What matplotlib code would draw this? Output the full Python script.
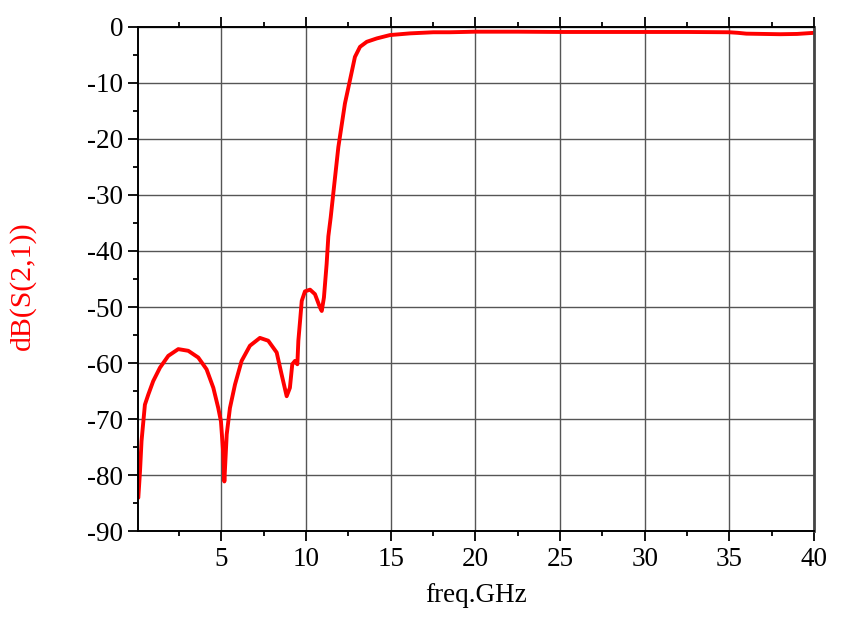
import matplotlib
matplotlib.use("Agg")
import matplotlib.pyplot as plt
from matplotlib.ticker import MultipleLocator

# --- data (freq in GHz, S21 in dB) ---
freq_ghz = [
    0.1, 0.2, 0.29, 0.49, 0.69, 0.98, 1.38, 1.87, 2.46, 3.05, 3.64, 4.13,
    4.53, 4.82, 4.98, 5.12, 5.18, 5.32, 5.51, 5.81, 6.2, 6.69, 7.28, 7.77,
    8.27, 8.56, 8.86, 9.05, 9.19, 9.35, 9.49, 9.55, 9.65, 9.75, 9.94, 10.24,
    10.53, 10.83, 10.93, 11.06, 11.22, 11.32, 11.46, 11.61, 11.91, 12.3,
    12.6, 12.89, 13.19, 13.59, 14.18, 14.96, 16.14, 17.52, 18.5, 20.0,
    22.5, 25.0, 27.5, 30.0, 32.5, 35.0, 35.5, 36.0, 37.0, 38.0, 39.0, 40.0,
]
s21_db = [
    -84.0, -79.3, -73.9, -67.4, -65.6, -63.2, -60.8, -58.7, -57.5, -57.8,
    -59.0, -61.1, -64.4, -68.0, -70.4, -76.3, -81.1, -72.7, -68.0, -63.8,
    -59.6, -56.9, -55.5, -56.0, -58.1, -62.0, -65.9, -64.4, -60.2, -59.6,
    -60.2, -56.0, -52.5, -48.9, -47.2, -46.9, -47.7, -50.1, -50.7, -48.3,
    -42.3, -37.4, -34.0, -29.8, -21.5, -13.7, -9.5, -5.4, -3.6, -2.7, -2.1,
    -1.5, -1.2, -1.0, -1.0, -0.9, -0.9, -0.95, -0.95, -0.95, -0.95, -1.0,
    -1.1, -1.25, -1.3, -1.35, -1.3, -1.1,
]

x_ticks = [5, 10, 15, 20, 25, 30, 35, 40]
y_ticks = [0, -10, -20, -30, -40, -50, -60, -70, -80, -90]

plt.rcParams["font.family"] = ["Liberation Serif", "DejaVu Serif"]
plt.rcParams["axes.unicode_minus"] = False  # plain hyphen like the original

fig = plt.figure(figsize=(8.48, 6.27), dpi=100)
ax = fig.add_axes([0.1631, 0.1525, 0.7969, 0.8050])

ax.plot(freq_ghz, s21_db, color="#ff0000", linewidth=2.8,
        solid_joinstyle="round", solid_capstyle="round")

ax.set_xlim(0.1, 40)
ax.set_ylim(-90, 0)
ax.set_xticks(x_ticks)
ax.set_yticks(y_ticks)
ax.xaxis.set_minor_locator(MultipleLocator(2.5))
ax.yaxis.set_minor_locator(MultipleLocator(5))
ax.xaxis.set_ticks_position("both")
ax.yaxis.set_ticks_position("left")

ax.grid(True, which="major", color="#555555", linewidth=1.0)
ax.set_axisbelow(True)

ax.tick_params(axis="both", which="major", direction="out", length=7,
               width=1.3, labelsize=19.5, pad=4)
ax.tick_params(axis="both", which="minor", direction="out", length=3.5,
               width=1.3)
ax.tick_params(axis="x", which="both", labeltop=False)

for side in ["left", "bottom", "top"]:
    ax.spines[side].set_linewidth(1.4)
ax.spines["right"].set_linewidth(2.0)
ax.spines["right"].set_color("#444444")

ax.set_xlabel("freq.GHz", fontsize=19.5, labelpad=8)
ax.set_ylabel("dB(S(2,1))", fontsize=21.5, color="#ff0000")
ax.yaxis.set_label_coords(-0.151, 0.486)

fig.savefig("out.png", dpi=100)
